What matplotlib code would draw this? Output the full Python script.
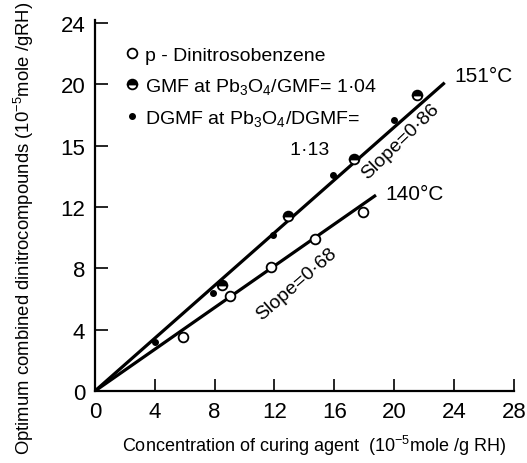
import matplotlib.pyplot as plt
from matplotlib.lines import Line2D
import numpy as np

plt.rcParams['font.family'] = ['Liberation Sans', 'DejaVu Sans']
plt.rcParams['mathtext.fontset'] = 'custom'
plt.rcParams['mathtext.rm'] = 'Liberation Sans'
plt.rcParams['mathtext.it'] = 'Liberation Sans'
plt.rcParams['mathtext.default'] = 'regular'

# p-Dinitrosobenzene (140 C)
pdb_x = [5.9, 9.0, 11.8, 14.7, 17.9]
pdb_y = [3.5, 6.2, 8.1, 9.9, 11.7]

# GMF at Pb3O4/GMF = 1.04 (151 C)
gmf_x = [8.5, 12.9, 17.3, 21.5]
gmf_y = [6.9, 11.4, 15.1, 19.3]

# DGMF at Pb3O4/DGMF = 1.13 (151 C)
dgmf_x = [4.0, 7.9, 11.9, 15.9, 20.0]
dgmf_y = [3.2, 6.4, 10.2, 14.1, 17.7]

# fitted lines through origin
slope_151 = 0.86
slope_140 = 0.68
x_end_151 = 23.3
x_end_140 = 18.7

xticks = [0, 4, 8, 12, 16, 20, 24, 28]
yticks = [0, 4, 8, 12, 16, 20, 24]
ytick_labels = ['0', '4', '8', '12', '15', '20', '24']

fig = plt.figure(figsize=(5.27, 4.64), dpi=100)
ax = fig.add_axes([0.180, 0.155, 0.795, 0.800])

xs = np.array([0, x_end_151])
ax.plot(xs, slope_151 * xs, color='black', lw=2.3, zorder=2)
xs = np.array([0, x_end_140])
ax.plot(xs, slope_140 * xs, color='black', lw=2.3, zorder=2)

h1, = ax.plot(pdb_x, pdb_y, 'o', ms=7, mfc='white', mec='black', mew=1.3,
              zorder=3)
h2, = ax.plot(gmf_x, gmf_y, 'o', ms=7, mfc='black', mfcalt='white',
              fillstyle='top', mec='black', mew=1.3, zorder=3)
h3, = ax.plot(dgmf_x, dgmf_y, 'o', ms=4, color='black', zorder=3)
blank = Line2D([], [], linestyle='none')

labels = ['p - Dinitrosobenzene',
          'GMF at Pb$_3$O$_4$/GMF= 1·04',
          'DGMF at Pb$_3$O$_4$/DGMF=',
          ' ' * 27 + '1·13']
ax.legend([h1, h2, h3, blank], labels, loc='upper left',
          bbox_to_anchor=(0.055, 0.95), frameon=False, fontsize=14,
          handlelength=0.6, handletextpad=0.4, labelspacing=0.62,
          borderaxespad=0)

ax.text(24.0, 20.6, '151°C', fontsize=15, va='center', ha='left')
ax.text(19.4, 12.9, '140°C', fontsize=15, va='center', ha='left')
ax.text(20.4, 16.3, 'Slope=0·86', fontsize=14, rotation=44,
        ha='center', va='center')
ax.text(13.5, 7.0, 'Slope=0·68', fontsize=14, rotation=41,
        ha='center', va='center')

ax.set_xlim(0, 28)
ax.set_ylim(0, 24.2)
ax.set_xticks(xticks)
ax.set_yticks(yticks)
ax.set_yticklabels(ytick_labels)
ax.tick_params(direction='in', length=9, width=1.2, labelsize=16, pad=7)
ax.spines['top'].set_visible(False)
ax.spines['right'].set_visible(False)
ax.spines['left'].set_linewidth(1.6)
ax.spines['bottom'].set_linewidth(1.6)

ax.set_xlabel('Concentration of curing agent  (10$^{-5}$mole /g RH)',
              fontsize=13)
ax.set_ylabel('Optimum combined dinitrocompounds (10$^{-5}$mole /gRH)',
              fontsize=13.3)
ax.xaxis.set_label_coords(0.523, -0.113)
ax.yaxis.set_label_coords(-0.14, 0.44)

fig.savefig('out.png', dpi=100)
